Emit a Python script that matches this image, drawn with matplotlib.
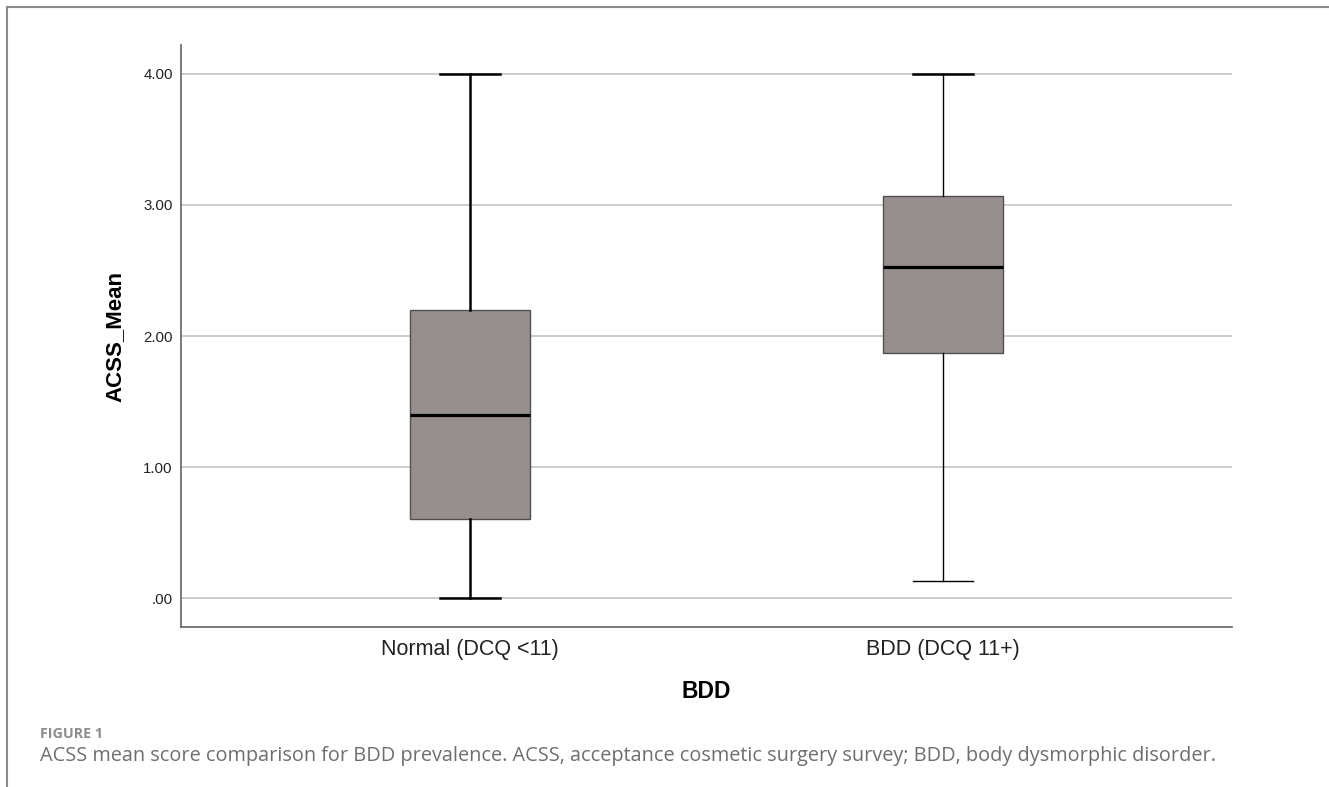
import matplotlib
matplotlib.use("Agg")
import matplotlib.pyplot as plt
from matplotlib.lines import Line2D

# box summary values
groups = ["Normal (DCQ <11)", "BDD (DCQ 11+)"]
whisker_low = [0.00, 0.13]
q1 = [0.60, 1.87]
median = [1.40, 2.53]
q3 = [2.20, 3.07]
whisker_high = [4.00, 4.00]
yticks = [0, 1, 2, 3, 4]
ytick_labels = [".00", "1.00", "2.00", "3.00", "4.00"]

W, H = 1329, 787
fig = plt.figure(figsize=(W / 100, H / 100), dpi=100)
ax = fig.add_axes([181 / W, 1 - 627 / H, (1232 - 181) / W, (627 - 45) / H])

stats = []
for i in range(len(groups)):
    stats.append({"label": groups[i], "whislo": whisker_low[i], "q1": q1[i],
                  "med": median[i], "q3": q3[i], "whishi": whisker_high[i], "fliers": []})

positions = [1, 2]
bp = ax.bxp(stats, positions=positions, widths=0.252, patch_artist=True,
            showfliers=False,
            boxprops=dict(facecolor="#968f8e", edgecolor="#505050", linewidth=1.0),
            medianprops=dict(color="black", linewidth=2.3, solid_capstyle="butt"),
            whiskerprops=dict(color="black", linewidth=1.0),
            capprops=dict(color="black", linewidth=1.0),
            zorder=3)

# SPSS draws the first group's whiskers heavier
for w in bp["whiskers"][:2]:
    w.set_linewidth(1.8)
for c in bp["caps"][:2]:
    c.set_linewidth(1.8)
bp["caps"][3].set_linewidth(1.8)

ax.set_xlim(0.389, 2.611)
ax.set_ylim(-0.221, 4.221)
ax.set_yticks(yticks)
ax.set_yticklabels(ytick_labels)
ax.yaxis.grid(True, color="#c8c8c8", linewidth=1.3, zorder=0)
ax.set_axisbelow(True)
ax.tick_params(axis="both", length=0)
ax.tick_params(axis="y", pad=6, labelsize=10.8)
ax.tick_params(axis="x", pad=9, labelsize=15.5)
for lab in ax.get_xticklabels() + ax.get_yticklabels():
    lab.set_family("Liberation Sans")
    lab.set_color("#222222")

ax.spines["top"].set_visible(False)
ax.spines["right"].set_visible(False)
ax.spines["left"].set_color("#707070")
ax.spines["bottom"].set_color("#707070")
ax.spines["left"].set_linewidth(1.3)
ax.spines["bottom"].set_linewidth(1.3)

fig.text(115 / W, 1 - 336 / H, "ACSS_Mean", family="Liberation Sans", fontweight="bold",
         fontsize=16, rotation=90, ha="center", va="center")
fig.text(0.5 * (181 + 1232) / W, 1 - 692 / H, "BDD", family="Liberation Sans",
         fontweight="bold", fontsize=16.5, ha="center", va="center")

# page frame
fig.add_artist(Line2D([7 / W, 1], [1 - 7 / H, 1 - 7 / H], color="#8a8a8a", linewidth=1.5))
fig.add_artist(Line2D([7 / W, 7 / W], [0, 1 - 7 / H], color="#8a8a8a", linewidth=1.5))

fig.text(40 / W, 1 - 734 / H, "FIGURE 1", family="Open Sans", fontweight="bold",
         fontsize=10.3, color="#8c8c8c", va="center")
fig.text(40 / W, 1 - 756 / H,
         "ACSS mean score comparison for BDD prevalence. ACSS, acceptance cosmetic surgery survey; BDD, body dysmorphic disorder.",
         family="Open Sans", fontsize=14.33, color="#6e6e6e", va="center")

fig.savefig("out.png", dpi=100)
